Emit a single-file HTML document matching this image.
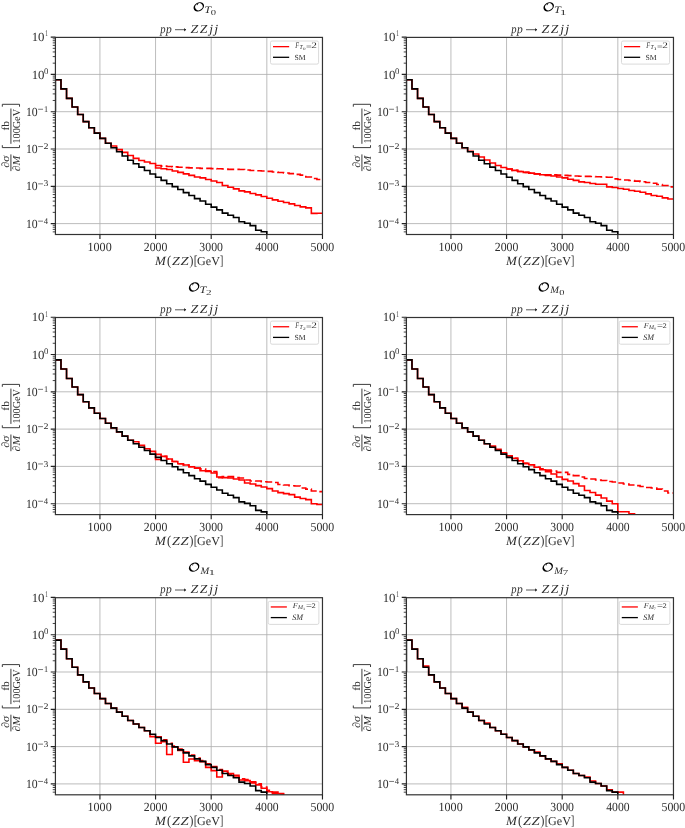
<!DOCTYPE html><html><head><meta charset="utf-8"><style>html,body{margin:0;padding:0;background:#fff;width:685px;height:828px;overflow:hidden}svg{display:block;will-change:transform}text{font-family:"Liberation Serif", serif;fill:#2e2e2e;text-rendering:geometricPrecision}.it{font-style:italic}</style></head><body>
<svg width="685" height="828" viewBox="0 0 685 828">
<rect width="685" height="828" fill="#fff"/>
<clipPath id="c0"><rect x="55.42" y="37.4" width="267.05" height="197.1"/></clipPath>
<path d="M99.93 37.4V234.5M155.56 37.4V234.5M211.2 37.4V234.5M266.83 37.4V234.5M55.42 74.4H322.47M55.42 111.7H322.47M55.42 149H322.47M55.42 186.3H322.47M55.42 223.6H322.47" stroke="#b0b0b0" stroke-width="0.85" fill="none"/>
<g clip-path="url(#c0)" fill="none" stroke-width="1.6" stroke-linejoin="miter" stroke-linecap="butt">
<path d="M155.56 165.56L155.56 165.56L161.13 165.56L161.13 166.16L166.69 166.16L166.69 166.53L172.25 166.53L172.25 166.9L177.82 166.9L177.82 167.28L183.38 167.28L183.38 167.65L188.94 167.65L188.94 167.84L194.51 167.84L194.51 168.02L200.07 168.02L200.07 168.36L205.64 168.36L205.64 168.4L211.2 168.4L211.2 168.58L216.76 168.58L216.76 168.77L222.33 168.77L222.33 168.96L227.89 168.96L227.89 169.33L233.45 169.33L233.45 169.33L239.02 169.33L239.02 169.51L244.58 169.51L244.58 170.07L250.14 170.07L250.14 170.56L255.71 170.56L255.71 170.82L261.27 170.82L261.27 171.01L266.83 171.01L266.83 171.34L272.4 171.34L272.4 171.94L277.96 171.94L277.96 172.54L283.53 172.54L283.53 173.06L289.09 173.06L289.09 173.62L294.65 173.62L294.65 174.33L300.22 174.33L300.22 175.11L305.78 175.11L305.78 176.94L311.34 176.94L311.34 178.5L316.91 178.5L316.91 179.51L322.47 179.51" stroke="#ff0000" stroke-dasharray="7.5 3.2"/>
<path d="M55.42 79.81L55.42 79.81L60.98 79.81L60.98 88.87L66.55 88.87L66.55 98.38L72.11 98.38L72.11 106.93L77.67 106.93L77.67 114.53L83.24 114.53L83.24 121.58L88.8 121.58L88.8 127.74L94.36 127.74L94.36 133.15L99.93 133.15L99.93 138.33L105.49 138.33L105.49 143.22L111.06 143.22L111.06 146.02L116.62 146.02L116.62 149.6L122.18 149.6L122.18 152.39L127.75 152.39L127.75 155.56L133.31 155.56L133.31 158.36L138.87 158.36L138.87 160.56L144.44 160.56L144.44 161.98L150 161.98L150 163.55L155.56 163.55L155.56 167.95L161.13 167.95L161.13 168.77L166.69 168.77L166.69 169.55L172.25 169.55L172.25 170.93L177.82 170.93L177.82 172.35L183.38 172.35L183.38 173.92L188.94 173.92L188.94 175.33L194.51 175.33L194.51 176.94L200.07 176.94L200.07 177.91L205.64 177.91L205.64 179.51L211.2 179.51L211.2 180.93L216.76 180.93L216.76 182.5L222.33 182.5L222.33 185.52L227.89 185.52L227.89 187.31L233.45 187.31L233.45 188.91L239.02 188.91L239.02 190.89L244.58 190.89L244.58 191.89L250.14 191.89L250.14 193.5L255.71 193.5L255.71 194.88L261.27 194.88L261.27 196.48L266.83 196.48L266.83 198.27L272.4 198.27L272.4 199.88L277.96 199.88L277.96 201.26L283.53 201.26L283.53 202.45L289.09 202.45L289.09 203.87L294.65 203.87L294.65 205.43L300.22 205.43L300.22 206.85L305.78 206.85L305.78 207.86L311.34 207.86L311.34 213.42L316.91 213.42L316.91 213.23L322.47 213.23" stroke="#ff0000"/>
<path d="M55.42 111.7L55.42 79.81L55.42 79.81L60.98 79.81L60.98 88.87L66.55 88.87L66.55 98.38L72.11 98.38L72.11 106.93L77.67 106.93L77.67 114.53L83.24 114.53L83.24 121.58L88.8 121.58L88.8 127.74L94.36 127.74L94.36 133.15L99.93 133.15L99.93 138.33L105.49 138.33L105.49 143.22L111.06 143.22L111.06 147.81L116.62 147.81L116.62 151.8L122.18 151.8L122.18 156.01L127.75 156.01L127.75 160.19L133.31 160.19L133.31 163.7L138.87 163.7L138.87 167.17L144.44 167.17L144.44 170.45L150 170.45L150 173.99L155.56 173.99L155.56 177.24L161.13 177.24L161.13 180.33L166.69 180.33L166.69 183.69L172.25 183.69L172.25 186.6L177.82 186.6L177.82 189.55L183.38 189.55L183.38 192.6L188.94 192.6L188.94 195.55L194.51 195.55L194.51 198.61L200.07 198.61L200.07 201.07L205.64 201.07L205.64 204.32L211.2 204.32L211.2 207.08L216.76 207.08L216.76 209.91L222.33 209.91L222.33 213.16L227.89 213.16L227.89 215.21L233.45 215.21L233.45 217.48L239.02 217.48L239.02 221.81L244.58 221.81L244.58 223.23L250.14 223.23L250.14 225.65L255.71 225.65L255.71 230.31L261.27 230.31L261.27 231.81L266.83 231.81L266.83 254.5" stroke="#000"/>
</g>
<rect x="55.42" y="37.4" width="267.05" height="197.1" fill="none" stroke="#333" stroke-width="1.2"/>
<path d="M99.93 234.5v4.6M155.56 234.5v4.6M211.2 234.5v4.6M266.83 234.5v4.6M322.47 234.5v4.6M55.42 37.1h-4.7M55.42 74.4h-4.7M55.42 111.7h-4.7M55.42 149h-4.7M55.42 186.3h-4.7M55.42 223.6h-4.7" stroke="#222" stroke-width="1.15" fill="none"/>
<path d="M55.42 63.17h-2.7M55.42 56.6h-2.7M55.42 51.94h-2.7M55.42 48.33h-2.7M55.42 45.37h-2.7M55.42 42.88h-2.7M55.42 40.71h-2.7M55.42 38.81h-2.7M55.42 100.47h-2.7M55.42 93.9h-2.7M55.42 89.24h-2.7M55.42 85.63h-2.7M55.42 82.67h-2.7M55.42 80.18h-2.7M55.42 78.01h-2.7M55.42 76.11h-2.7M55.42 137.77h-2.7M55.42 131.2h-2.7M55.42 126.54h-2.7M55.42 122.93h-2.7M55.42 119.97h-2.7M55.42 117.48h-2.7M55.42 115.31h-2.7M55.42 113.41h-2.7M55.42 175.07h-2.7M55.42 168.5h-2.7M55.42 163.84h-2.7M55.42 160.23h-2.7M55.42 157.27h-2.7M55.42 154.78h-2.7M55.42 152.61h-2.7M55.42 150.71h-2.7M55.42 212.37h-2.7M55.42 205.8h-2.7M55.42 201.14h-2.7M55.42 197.53h-2.7M55.42 194.57h-2.7M55.42 192.08h-2.7M55.42 189.91h-2.7M55.42 188.01h-2.7M55.42 231.87h-2.7M55.42 229.38h-2.7M55.42 227.21h-2.7M55.42 225.31h-2.7" stroke="#222" stroke-width="0.85" fill="none"/>
<text x="87.57" y="250.7" font-size="12.4" textLength="24.12" lengthAdjust="spacingAndGlyphs"><tspan>1000</tspan></text>
<text x="143.75" y="250.7" font-size="12.4" textLength="23.57" lengthAdjust="spacingAndGlyphs"><tspan>2000</tspan></text>
<text x="199.33" y="250.7" font-size="12.4" textLength="23.61" lengthAdjust="spacingAndGlyphs"><tspan>3000</tspan></text>
<text x="255.31" y="250.7" font-size="12.4" textLength="23.27" lengthAdjust="spacingAndGlyphs"><tspan>4000</tspan></text>
<text x="310.48" y="250.7" font-size="12.4" textLength="23.74" lengthAdjust="spacingAndGlyphs"><tspan>5000</tspan></text>
<text x="31.69" y="41.2" font-size="12.4" textLength="12.81" lengthAdjust="spacingAndGlyphs"><tspan>10</tspan></text>
<text x="45.15" y="36.4" font-size="8.6" textLength="2.7" lengthAdjust="spacingAndGlyphs"><tspan>1</tspan></text>
<text x="31.69" y="78.5" font-size="12.4" textLength="12.81" lengthAdjust="spacingAndGlyphs"><tspan>10</tspan></text>
<text x="44.09" y="73.7" font-size="8.6" textLength="4.36" lengthAdjust="spacingAndGlyphs"><tspan>0</tspan></text>
<text x="25.98" y="115.7" font-size="12.4" textLength="11.78" lengthAdjust="spacingAndGlyphs"><tspan>10</tspan></text>
<path d="M38.12 109.25H43.02" stroke="#2e2e2e" stroke-width="0.65"/>
<text x="43.9" y="111.8" font-size="8.6" textLength="4.12" lengthAdjust="spacingAndGlyphs"><tspan>1</tspan></text>
<text x="25.98" y="153" font-size="12.4" textLength="11.78" lengthAdjust="spacingAndGlyphs"><tspan>10</tspan></text>
<path d="M38.12 146.55H43.02" stroke="#2e2e2e" stroke-width="0.65"/>
<text x="43.58" y="149.1" font-size="8.6" textLength="4.99" lengthAdjust="spacingAndGlyphs"><tspan>2</tspan></text>
<text x="25.98" y="190.3" font-size="12.4" textLength="11.78" lengthAdjust="spacingAndGlyphs"><tspan>10</tspan></text>
<path d="M38.12 183.85H43.02" stroke="#2e2e2e" stroke-width="0.65"/>
<text x="43.56" y="186.4" font-size="8.6" textLength="4.84" lengthAdjust="spacingAndGlyphs"><tspan>3</tspan></text>
<text x="25.98" y="227.6" font-size="12.4" textLength="11.78" lengthAdjust="spacingAndGlyphs"><tspan>10</tspan></text>
<path d="M38.12 221.15H43.02" stroke="#2e2e2e" stroke-width="0.65"/>
<text x="43.85" y="223.7" font-size="8.6" textLength="4.3" lengthAdjust="spacingAndGlyphs"><tspan>4</tspan></text>
<text x="155.05" y="264.6" font-size="12.6" textLength="10.85" lengthAdjust="spacingAndGlyphs"><tspan font-style="italic">M</tspan></text>
<text x="167.05" y="264.9" font-size="13.6" textLength="4.15" lengthAdjust="spacingAndGlyphs"><tspan>(</tspan></text>
<text x="172.02" y="264.6" font-size="12.4" textLength="7.86" lengthAdjust="spacingAndGlyphs"><tspan font-style="italic">Z</tspan></text>
<text x="180.62" y="264.6" font-size="12.4" textLength="8.16" lengthAdjust="spacingAndGlyphs"><tspan font-style="italic">Z</tspan></text>
<text x="189.52" y="264.9" font-size="13.6" textLength="3.89" lengthAdjust="spacingAndGlyphs"><tspan>)</tspan></text>
<text x="193.76" y="264.9" font-size="13.6" textLength="3.74" lengthAdjust="spacingAndGlyphs"><tspan>[</tspan></text>
<text x="197.1" y="264.6" font-size="12.2" textLength="22.83" lengthAdjust="spacingAndGlyphs"><tspan>GeV</tspan></text>
<text x="220.04" y="264.9" font-size="13.6" textLength="3.29" lengthAdjust="spacingAndGlyphs"><tspan>]</tspan></text>
<text x="160.22" y="32.6" font-size="12.3" textLength="5.3" lengthAdjust="spacingAndGlyphs"><tspan font-style="italic">p</tspan></text>
<text x="166.07" y="32.6" font-size="12.3" textLength="5.77" lengthAdjust="spacingAndGlyphs"><tspan font-style="italic">p</tspan></text>
<text x="190.62" y="32.6" font-size="12.3" textLength="7.75" lengthAdjust="spacingAndGlyphs"><tspan font-style="italic">Z</tspan></text>
<text x="199.73" y="32.6" font-size="12.3" textLength="7.55" lengthAdjust="spacingAndGlyphs"><tspan font-style="italic">Z</tspan></text>
<text x="209.35" y="32.6" font-size="12.3" textLength="3.78" lengthAdjust="spacingAndGlyphs"><tspan font-style="italic">j</tspan></text>
<text x="214.31" y="32.6" font-size="12.3" textLength="3.93" lengthAdjust="spacingAndGlyphs"><tspan font-style="italic">j</tspan></text>
<path d="M175 29.7H185.59" stroke="#2e2e2e" stroke-width="0.8" fill="none"/>
<path d="M184 27.9Q185.19 29.2 186.19 29.7Q185.19 30.2 184 31.5Q184.89 29.7 184 27.9Z" fill="#000"/>
<g transform="translate(198.8 6.85)"><g transform="rotate(-32)"><path fill-rule="evenodd" fill="#000" d="M-5.6 0A5.6 4.3 0 1 0 5.6 0A5.6 4.3 0 1 0 -5.6 0ZM-3.7 0A3.85 3.35 0 1 0 4 0A3.85 3.35 0 1 0 -3.7 0Z"/></g><path d="M-0.3 -3.9q-1.2 0.7 -1.2 2.2" stroke="#000" stroke-width="0.75" fill="none"/></g>
<text x="204.19" y="12.8" font-size="10" textLength="6.88" lengthAdjust="spacingAndGlyphs"><tspan font-style="italic">T</tspan></text>
<text x="210.8" y="14.7" font-size="7.6" textLength="5.31" lengthAdjust="spacingAndGlyphs"><tspan>0</tspan></text>
<g transform="translate(10.92 171.1) rotate(-90)">
<path d="M0 0H16.7M27.3 0H62.6" stroke="#333" stroke-width="0.95"/>
<text x="3.39" y="-1.9" font-size="10.6" textLength="12.12" lengthAdjust="spacingAndGlyphs"><tspan>∂</tspan><tspan font-style="italic">σ</tspan></text>
<text x="-0.19" y="8.9" font-size="10.6" textLength="15.55" lengthAdjust="spacingAndGlyphs"><tspan>∂</tspan><tspan font-style="italic">M</tspan></text>
<text x="40.55" y="-1.9" font-size="10.6" textLength="9.59" lengthAdjust="spacingAndGlyphs"><tspan>fb</tspan></text>
<text x="27.6" y="8.9" font-size="10.6" textLength="34.51" lengthAdjust="spacingAndGlyphs"><tspan>100GeV</tspan></text>
<path d="M25.9 -8.6H23.5V8.6H25.9M64.4 -8.6H66.8V8.6H64.4" stroke="#333" stroke-width="0.95" fill="none"/>
</g>
<rect x="270.47" y="41" width="48.1" height="23.1" rx="1.6" fill="#fff" fill-opacity="0.8" stroke="#d6d6d6" stroke-width="0.9"/>
<path d="M272.97 46.65H289.17" stroke="#ff0000" stroke-width="1.3"/>
<path d="M272.97 57.3H289.17" stroke="#000" stroke-width="1.3"/>
<text x="295.2" y="47.9" font-size="8.4" textLength="3.81" lengthAdjust="spacingAndGlyphs"><tspan font-style="italic">F</tspan></text>
<text x="299.49" y="48.9" font-size="6.2" textLength="3.24" lengthAdjust="spacingAndGlyphs"><tspan font-style="italic">T</tspan></text>
<text x="302.85" y="49.8" font-size="3.9" textLength="2.83" lengthAdjust="spacingAndGlyphs"><tspan>0</tspan></text>
<text x="306.07" y="48.8" font-size="8.4" textLength="5.7" lengthAdjust="spacingAndGlyphs"><tspan>=</tspan></text>
<text x="311.18" y="47.9" font-size="8.4" textLength="5.61" lengthAdjust="spacingAndGlyphs"><tspan>2</tspan></text>
<text x="294.45" y="59.9" font-size="7.8" textLength="11.14" lengthAdjust="spacingAndGlyphs"><tspan>SM</tspan></text>
<clipPath id="c1"><rect x="406.42" y="37.4" width="267.05" height="197.1"/></clipPath>
<path d="M450.93 37.4V234.5M506.56 37.4V234.5M562.2 37.4V234.5M617.83 37.4V234.5M406.42 74.4H673.47M406.42 111.7H673.47M406.42 149H673.47M406.42 186.3H673.47M406.42 223.6H673.47" stroke="#b0b0b0" stroke-width="0.85" fill="none"/>
<g clip-path="url(#c1)" fill="none" stroke-width="1.6" stroke-linejoin="miter" stroke-linecap="butt">
<path d="M506.56 168.96L506.56 168.96L512.13 168.96L512.13 170.34L517.69 170.34L517.69 171.53L523.25 171.53L523.25 172.35L528.82 172.35L528.82 173.13L534.38 173.13L534.38 173.92L539.95 173.92L539.95 174.74L545.51 174.74L545.51 174.74L551.07 174.74L551.07 174.92L556.64 174.92L556.64 175.11L562.2 175.11L562.2 175.33L567.76 175.33L567.76 175.63L573.33 175.63L573.33 175.93L578.89 175.93L578.89 176.23L584.45 176.23L584.45 176.42L590.02 176.42L590.02 176.53L595.58 176.53L595.58 176.79L601.14 176.79L601.14 177.05L606.71 177.05L606.71 177.31L612.27 177.31L612.27 178.84L617.83 178.84L617.83 179.51L623.4 179.51L623.4 179.96L628.96 179.96L628.96 180.52L634.53 180.52L634.53 181.08L640.09 181.08L640.09 181.82L645.65 181.82L645.65 182.5L651.22 182.5L651.22 183.32L656.78 183.32L656.78 184.51L662.34 184.51L662.34 185.55L667.91 185.55L667.91 186.9L673.47 186.9" stroke="#ff0000" stroke-dasharray="7.5 3.2"/>
<path d="M406.42 79.81L406.42 79.81L411.98 79.81L411.98 88.87L417.55 88.87L417.55 98.38L423.11 98.38L423.11 106.93L428.67 106.93L428.67 114.53L434.24 114.53L434.24 121.58L439.8 121.58L439.8 127.74L445.36 127.74L445.36 133.15L450.93 133.15L450.93 138.33L456.49 138.33L456.49 143.22L462.06 143.22L462.06 147.81L467.62 147.81L467.62 151.24L473.18 151.24L473.18 154L478.75 154L478.75 156.98L484.31 156.98L484.31 159.97L489.87 159.97L489.87 162.95L495.44 162.95L495.44 165.56L501 165.56L501 167.54L506.56 167.54L506.56 168.96L512.13 168.96L512.13 170.34L517.69 170.34L517.69 171.53L523.25 171.53L523.25 172.35L528.82 172.35L528.82 173.13L534.38 173.13L534.38 173.92L539.95 173.92L539.95 174.74L545.51 174.74L545.51 175.48L551.07 175.48L551.07 175.93L556.64 175.93L556.64 176.94L562.2 176.94L562.2 177.91L567.76 177.91L567.76 179.32L573.33 179.32L573.33 180.33L578.89 180.33L578.89 181.9L584.45 181.9L584.45 182.5L590.02 182.5L590.02 183.5L595.58 183.5L595.58 184.32L601.14 184.32L601.14 184.32L606.71 184.32L606.71 186.9L612.27 186.9L612.27 187.49L617.83 187.49L617.83 188.5L623.4 188.5L623.4 189.28L628.96 189.28L628.96 190.48L634.53 190.48L634.53 191.3L640.09 191.3L640.09 192.27L645.65 192.27L645.65 193.87L651.22 193.87L651.22 195.48L656.78 195.48L656.78 196.26L662.34 196.26L662.34 197.86L667.91 197.86L667.91 199.06L673.47 199.06" stroke="#ff0000"/>
<path d="M406.42 111.7L406.42 79.81L406.42 79.81L411.98 79.81L411.98 88.87L417.55 88.87L417.55 98.38L423.11 98.38L423.11 106.93L428.67 106.93L428.67 114.53L434.24 114.53L434.24 121.58L439.8 121.58L439.8 127.74L445.36 127.74L445.36 133.15L450.93 133.15L450.93 138.33L456.49 138.33L456.49 143.22L462.06 143.22L462.06 147.81L467.62 147.81L467.62 151.8L473.18 151.8L473.18 156.01L478.75 156.01L478.75 160.19L484.31 160.19L484.31 163.7L489.87 163.7L489.87 167.17L495.44 167.17L495.44 170.45L501 170.45L501 173.99L506.56 173.99L506.56 177.24L512.13 177.24L512.13 180.33L517.69 180.33L517.69 183.69L523.25 183.69L523.25 186.6L528.82 186.6L528.82 189.55L534.38 189.55L534.38 192.6L539.95 192.6L539.95 195.55L545.51 195.55L545.51 198.61L551.07 198.61L551.07 201.07L556.64 201.07L556.64 204.32L562.2 204.32L562.2 207.08L567.76 207.08L567.76 209.91L573.33 209.91L573.33 213.16L578.89 213.16L578.89 215.21L584.45 215.21L584.45 217.48L590.02 217.48L590.02 221.81L595.58 221.81L595.58 223.23L601.14 223.23L601.14 225.65L606.71 225.65L606.71 230.31L612.27 230.31L612.27 231.81L617.83 231.81L617.83 254.5" stroke="#000"/>
</g>
<rect x="406.42" y="37.4" width="267.05" height="197.1" fill="none" stroke="#333" stroke-width="1.2"/>
<path d="M450.93 234.5v4.6M506.56 234.5v4.6M562.2 234.5v4.6M617.83 234.5v4.6M673.47 234.5v4.6M406.42 37.1h-4.7M406.42 74.4h-4.7M406.42 111.7h-4.7M406.42 149h-4.7M406.42 186.3h-4.7M406.42 223.6h-4.7" stroke="#222" stroke-width="1.15" fill="none"/>
<path d="M406.42 63.17h-2.7M406.42 56.6h-2.7M406.42 51.94h-2.7M406.42 48.33h-2.7M406.42 45.37h-2.7M406.42 42.88h-2.7M406.42 40.71h-2.7M406.42 38.81h-2.7M406.42 100.47h-2.7M406.42 93.9h-2.7M406.42 89.24h-2.7M406.42 85.63h-2.7M406.42 82.67h-2.7M406.42 80.18h-2.7M406.42 78.01h-2.7M406.42 76.11h-2.7M406.42 137.77h-2.7M406.42 131.2h-2.7M406.42 126.54h-2.7M406.42 122.93h-2.7M406.42 119.97h-2.7M406.42 117.48h-2.7M406.42 115.31h-2.7M406.42 113.41h-2.7M406.42 175.07h-2.7M406.42 168.5h-2.7M406.42 163.84h-2.7M406.42 160.23h-2.7M406.42 157.27h-2.7M406.42 154.78h-2.7M406.42 152.61h-2.7M406.42 150.71h-2.7M406.42 212.37h-2.7M406.42 205.8h-2.7M406.42 201.14h-2.7M406.42 197.53h-2.7M406.42 194.57h-2.7M406.42 192.08h-2.7M406.42 189.91h-2.7M406.42 188.01h-2.7M406.42 231.87h-2.7M406.42 229.38h-2.7M406.42 227.21h-2.7M406.42 225.31h-2.7" stroke="#222" stroke-width="0.85" fill="none"/>
<text x="438.57" y="250.7" font-size="12.4" textLength="24.12" lengthAdjust="spacingAndGlyphs"><tspan>1000</tspan></text>
<text x="494.75" y="250.7" font-size="12.4" textLength="23.57" lengthAdjust="spacingAndGlyphs"><tspan>2000</tspan></text>
<text x="550.33" y="250.7" font-size="12.4" textLength="23.61" lengthAdjust="spacingAndGlyphs"><tspan>3000</tspan></text>
<text x="606.31" y="250.7" font-size="12.4" textLength="23.27" lengthAdjust="spacingAndGlyphs"><tspan>4000</tspan></text>
<text x="661.48" y="250.7" font-size="12.4" textLength="23.74" lengthAdjust="spacingAndGlyphs"><tspan>5000</tspan></text>
<text x="382.69" y="41.2" font-size="12.4" textLength="12.81" lengthAdjust="spacingAndGlyphs"><tspan>10</tspan></text>
<text x="396.15" y="36.4" font-size="8.6" textLength="2.7" lengthAdjust="spacingAndGlyphs"><tspan>1</tspan></text>
<text x="382.69" y="78.5" font-size="12.4" textLength="12.81" lengthAdjust="spacingAndGlyphs"><tspan>10</tspan></text>
<text x="395.09" y="73.7" font-size="8.6" textLength="4.36" lengthAdjust="spacingAndGlyphs"><tspan>0</tspan></text>
<text x="376.98" y="115.7" font-size="12.4" textLength="11.78" lengthAdjust="spacingAndGlyphs"><tspan>10</tspan></text>
<path d="M389.12 109.25H394.02" stroke="#2e2e2e" stroke-width="0.65"/>
<text x="394.9" y="111.8" font-size="8.6" textLength="4.12" lengthAdjust="spacingAndGlyphs"><tspan>1</tspan></text>
<text x="376.98" y="153" font-size="12.4" textLength="11.78" lengthAdjust="spacingAndGlyphs"><tspan>10</tspan></text>
<path d="M389.12 146.55H394.02" stroke="#2e2e2e" stroke-width="0.65"/>
<text x="394.58" y="149.1" font-size="8.6" textLength="4.99" lengthAdjust="spacingAndGlyphs"><tspan>2</tspan></text>
<text x="376.98" y="190.3" font-size="12.4" textLength="11.78" lengthAdjust="spacingAndGlyphs"><tspan>10</tspan></text>
<path d="M389.12 183.85H394.02" stroke="#2e2e2e" stroke-width="0.65"/>
<text x="394.56" y="186.4" font-size="8.6" textLength="4.84" lengthAdjust="spacingAndGlyphs"><tspan>3</tspan></text>
<text x="376.98" y="227.6" font-size="12.4" textLength="11.78" lengthAdjust="spacingAndGlyphs"><tspan>10</tspan></text>
<path d="M389.12 221.15H394.02" stroke="#2e2e2e" stroke-width="0.65"/>
<text x="394.85" y="223.7" font-size="8.6" textLength="4.3" lengthAdjust="spacingAndGlyphs"><tspan>4</tspan></text>
<text x="506.05" y="264.6" font-size="12.6" textLength="10.85" lengthAdjust="spacingAndGlyphs"><tspan font-style="italic">M</tspan></text>
<text x="518.05" y="264.9" font-size="13.6" textLength="4.15" lengthAdjust="spacingAndGlyphs"><tspan>(</tspan></text>
<text x="523.02" y="264.6" font-size="12.4" textLength="7.86" lengthAdjust="spacingAndGlyphs"><tspan font-style="italic">Z</tspan></text>
<text x="531.62" y="264.6" font-size="12.4" textLength="8.16" lengthAdjust="spacingAndGlyphs"><tspan font-style="italic">Z</tspan></text>
<text x="540.52" y="264.9" font-size="13.6" textLength="3.89" lengthAdjust="spacingAndGlyphs"><tspan>)</tspan></text>
<text x="544.76" y="264.9" font-size="13.6" textLength="3.74" lengthAdjust="spacingAndGlyphs"><tspan>[</tspan></text>
<text x="548.1" y="264.6" font-size="12.2" textLength="22.83" lengthAdjust="spacingAndGlyphs"><tspan>GeV</tspan></text>
<text x="571.04" y="264.9" font-size="13.6" textLength="3.29" lengthAdjust="spacingAndGlyphs"><tspan>]</tspan></text>
<text x="511.22" y="32.6" font-size="12.3" textLength="5.3" lengthAdjust="spacingAndGlyphs"><tspan font-style="italic">p</tspan></text>
<text x="517.07" y="32.6" font-size="12.3" textLength="5.77" lengthAdjust="spacingAndGlyphs"><tspan font-style="italic">p</tspan></text>
<text x="541.62" y="32.6" font-size="12.3" textLength="7.75" lengthAdjust="spacingAndGlyphs"><tspan font-style="italic">Z</tspan></text>
<text x="550.73" y="32.6" font-size="12.3" textLength="7.55" lengthAdjust="spacingAndGlyphs"><tspan font-style="italic">Z</tspan></text>
<text x="560.35" y="32.6" font-size="12.3" textLength="3.78" lengthAdjust="spacingAndGlyphs"><tspan font-style="italic">j</tspan></text>
<text x="565.31" y="32.6" font-size="12.3" textLength="3.93" lengthAdjust="spacingAndGlyphs"><tspan font-style="italic">j</tspan></text>
<path d="M526 29.7H536.6" stroke="#2e2e2e" stroke-width="0.8" fill="none"/>
<path d="M535 27.9Q536.2 29.2 537.2 29.7Q536.2 30.2 535 31.5Q535.9 29.7 535 27.9Z" fill="#000"/>
<g transform="translate(548.7 6.85)"><g transform="rotate(-32)"><path fill-rule="evenodd" fill="#000" d="M-5.6 0A5.6 4.3 0 1 0 5.6 0A5.6 4.3 0 1 0 -5.6 0ZM-3.7 0A3.85 3.35 0 1 0 4 0A3.85 3.35 0 1 0 -3.7 0Z"/></g><path d="M-0.3 -3.9q-1.2 0.7 -1.2 2.2" stroke="#000" stroke-width="0.75" fill="none"/></g>
<text x="554.09" y="12.8" font-size="10" textLength="6.88" lengthAdjust="spacingAndGlyphs"><tspan font-style="italic">T</tspan></text>
<text x="559.98" y="14.7" font-size="7.6" textLength="6.39" lengthAdjust="spacingAndGlyphs"><tspan>1</tspan></text>
<g transform="translate(361.92 171.1) rotate(-90)">
<path d="M0 0H16.7M27.3 0H62.6" stroke="#333" stroke-width="0.95"/>
<text x="3.39" y="-1.9" font-size="10.6" textLength="12.12" lengthAdjust="spacingAndGlyphs"><tspan>∂</tspan><tspan font-style="italic">σ</tspan></text>
<text x="-0.19" y="8.9" font-size="10.6" textLength="15.55" lengthAdjust="spacingAndGlyphs"><tspan>∂</tspan><tspan font-style="italic">M</tspan></text>
<text x="40.55" y="-1.9" font-size="10.6" textLength="9.59" lengthAdjust="spacingAndGlyphs"><tspan>fb</tspan></text>
<text x="27.6" y="8.9" font-size="10.6" textLength="34.51" lengthAdjust="spacingAndGlyphs"><tspan>100GeV</tspan></text>
<path d="M25.9 -8.6H23.5V8.6H25.9M64.4 -8.6H66.8V8.6H64.4" stroke="#333" stroke-width="0.95" fill="none"/>
</g>
<rect x="621.47" y="41" width="48.1" height="23.1" rx="1.6" fill="#fff" fill-opacity="0.8" stroke="#d6d6d6" stroke-width="0.9"/>
<path d="M623.97 46.65H640.17" stroke="#ff0000" stroke-width="1.3"/>
<path d="M623.97 57.3H640.17" stroke="#000" stroke-width="1.3"/>
<text x="646.2" y="47.9" font-size="8.4" textLength="3.81" lengthAdjust="spacingAndGlyphs"><tspan font-style="italic">F</tspan></text>
<text x="650.49" y="48.9" font-size="6.2" textLength="3.24" lengthAdjust="spacingAndGlyphs"><tspan font-style="italic">T</tspan></text>
<text x="653.47" y="49.8" font-size="3.9" textLength="3.41" lengthAdjust="spacingAndGlyphs"><tspan>1</tspan></text>
<text x="657.07" y="48.8" font-size="8.4" textLength="5.7" lengthAdjust="spacingAndGlyphs"><tspan>=</tspan></text>
<text x="662.18" y="47.9" font-size="8.4" textLength="5.61" lengthAdjust="spacingAndGlyphs"><tspan>2</tspan></text>
<text x="645.45" y="59.9" font-size="7.8" textLength="11.14" lengthAdjust="spacingAndGlyphs"><tspan>SM</tspan></text>
<clipPath id="c2"><rect x="55.42" y="317.5" width="267.05" height="197.1"/></clipPath>
<path d="M99.93 317.5V514.6M155.56 317.5V514.6M211.2 317.5V514.6M266.83 317.5V514.6M55.42 354.5H322.47M55.42 391.8H322.47M55.42 429.1H322.47M55.42 466.4H322.47M55.42 503.7H322.47" stroke="#b0b0b0" stroke-width="0.85" fill="none"/>
<g clip-path="url(#c2)" fill="none" stroke-width="1.6" stroke-linejoin="miter" stroke-linecap="butt">
<path d="M155.56 454.35L155.56 454.35L161.13 454.35L161.13 456.33L166.69 456.33L166.69 458.94L172.25 458.94L172.25 461.51L177.82 461.51L177.82 463.75L183.38 463.75L183.38 465.06L188.94 465.06L188.94 466.81L194.51 466.81L194.51 468.15L200.07 468.15L200.07 469.01L205.64 469.01L205.64 470.88L211.2 470.88L211.2 471.62L216.76 471.62L216.76 477.59L222.33 477.59L222.33 476.47L227.89 476.47L227.89 476.62L233.45 476.62L233.45 477.44L239.02 477.44L239.02 478.04L244.58 478.04L244.58 480.05L250.14 480.05L250.14 480.95L255.71 480.95L255.71 481.02L261.27 481.02L261.27 481.69L266.83 481.69L266.83 482.07L272.4 482.07L272.4 482.44L277.96 482.44L277.96 484.45L283.53 484.45L283.53 485.05L289.09 485.05L289.09 485.8L294.65 485.8L294.65 486.06L300.22 486.06L300.22 488.03L305.78 488.03L305.78 489.08L311.34 489.08L311.34 491.06L316.91 491.06L316.91 491.65L322.47 491.65" stroke="#ff0000" stroke-dasharray="7.5 3.2"/>
<path d="M55.42 359.91L55.42 359.91L60.98 359.91L60.98 368.97L66.55 368.97L66.55 378.48L72.11 378.48L72.11 387.03L77.67 387.03L77.67 394.63L83.24 394.63L83.24 401.68L88.8 401.68L88.8 407.84L94.36 407.84L94.36 413.25L99.93 413.25L99.93 418.43L105.49 418.43L105.49 423.32L111.06 423.32L111.06 427.91L116.62 427.91L116.62 431.9L122.18 431.9L122.18 436.11L127.75 436.11L127.75 440.29L133.31 440.29L133.31 441.74L138.87 441.74L138.87 445.33L144.44 445.33L144.44 448.76L150 448.76L150 451.37L155.56 451.37L155.56 459.46L161.13 459.46L161.13 456.33L166.69 456.33L166.69 458.94L172.25 458.94L172.25 461.51L177.82 461.51L177.82 463.75L183.38 463.75L183.38 465.06L188.94 465.06L188.94 466.81L194.51 466.81L194.51 468.15L200.07 468.15L200.07 470.69L205.64 470.69L205.64 471.4L211.2 471.4L211.2 473L216.76 473L216.76 477.03L222.33 477.03L222.33 477.63L227.89 477.63L227.89 478.04L233.45 478.04L233.45 479.04L239.02 479.04L239.02 480.05L244.58 480.05L244.58 483.04L250.14 483.04L250.14 484.04L255.71 484.04L255.71 485.65L261.27 485.65L261.27 487.06L266.83 487.06L266.83 488.67L272.4 488.67L272.4 491.06L277.96 491.06L277.96 492.66L283.53 492.66L283.53 493.67L289.09 493.67L289.09 494.67L294.65 494.67L294.65 497.1L300.22 497.1L300.22 498.48L305.78 498.48L305.78 499.67L311.34 499.67L311.34 503.7L316.91 503.7L316.91 504.52L322.47 504.52" stroke="#ff0000"/>
<path d="M55.42 391.8L55.42 359.91L55.42 359.91L60.98 359.91L60.98 368.97L66.55 368.97L66.55 378.48L72.11 378.48L72.11 387.03L77.67 387.03L77.67 394.63L83.24 394.63L83.24 401.68L88.8 401.68L88.8 407.84L94.36 407.84L94.36 413.25L99.93 413.25L99.93 418.43L105.49 418.43L105.49 423.32L111.06 423.32L111.06 427.91L116.62 427.91L116.62 431.9L122.18 431.9L122.18 436.11L127.75 436.11L127.75 440.29L133.31 440.29L133.31 443.8L138.87 443.8L138.87 447.27L144.44 447.27L144.44 450.55L150 450.55L150 454.09L155.56 454.09L155.56 457.34L161.13 457.34L161.13 460.43L166.69 460.43L166.69 463.79L172.25 463.79L172.25 466.7L177.82 466.7L177.82 469.65L183.38 469.65L183.38 472.7L188.94 472.7L188.94 475.65L194.51 475.65L194.51 478.71L200.07 478.71L200.07 481.17L205.64 481.17L205.64 484.42L211.2 484.42L211.2 487.18L216.76 487.18L216.76 490.01L222.33 490.01L222.33 493.26L227.89 493.26L227.89 495.31L233.45 495.31L233.45 497.58L239.02 497.58L239.02 501.91L244.58 501.91L244.58 503.33L250.14 503.33L250.14 505.75L255.71 505.75L255.71 510.41L261.27 510.41L261.27 511.91L266.83 511.91L266.83 534.6" stroke="#000"/>
</g>
<rect x="55.42" y="317.5" width="267.05" height="197.1" fill="none" stroke="#333" stroke-width="1.2"/>
<path d="M99.93 514.6v4.6M155.56 514.6v4.6M211.2 514.6v4.6M266.83 514.6v4.6M322.47 514.6v4.6M55.42 317.2h-4.7M55.42 354.5h-4.7M55.42 391.8h-4.7M55.42 429.1h-4.7M55.42 466.4h-4.7M55.42 503.7h-4.7" stroke="#222" stroke-width="1.15" fill="none"/>
<path d="M55.42 343.27h-2.7M55.42 336.7h-2.7M55.42 332.04h-2.7M55.42 328.43h-2.7M55.42 325.47h-2.7M55.42 322.98h-2.7M55.42 320.81h-2.7M55.42 318.91h-2.7M55.42 380.57h-2.7M55.42 374h-2.7M55.42 369.34h-2.7M55.42 365.73h-2.7M55.42 362.77h-2.7M55.42 360.28h-2.7M55.42 358.11h-2.7M55.42 356.21h-2.7M55.42 417.87h-2.7M55.42 411.3h-2.7M55.42 406.64h-2.7M55.42 403.03h-2.7M55.42 400.07h-2.7M55.42 397.58h-2.7M55.42 395.41h-2.7M55.42 393.51h-2.7M55.42 455.17h-2.7M55.42 448.6h-2.7M55.42 443.94h-2.7M55.42 440.33h-2.7M55.42 437.37h-2.7M55.42 434.88h-2.7M55.42 432.71h-2.7M55.42 430.81h-2.7M55.42 492.47h-2.7M55.42 485.9h-2.7M55.42 481.24h-2.7M55.42 477.63h-2.7M55.42 474.67h-2.7M55.42 472.18h-2.7M55.42 470.01h-2.7M55.42 468.11h-2.7M55.42 511.97h-2.7M55.42 509.48h-2.7M55.42 507.31h-2.7M55.42 505.41h-2.7" stroke="#222" stroke-width="0.85" fill="none"/>
<text x="87.57" y="530.8" font-size="12.4" textLength="24.12" lengthAdjust="spacingAndGlyphs"><tspan>1000</tspan></text>
<text x="143.75" y="530.8" font-size="12.4" textLength="23.57" lengthAdjust="spacingAndGlyphs"><tspan>2000</tspan></text>
<text x="199.33" y="530.8" font-size="12.4" textLength="23.61" lengthAdjust="spacingAndGlyphs"><tspan>3000</tspan></text>
<text x="255.31" y="530.8" font-size="12.4" textLength="23.27" lengthAdjust="spacingAndGlyphs"><tspan>4000</tspan></text>
<text x="310.48" y="530.8" font-size="12.4" textLength="23.74" lengthAdjust="spacingAndGlyphs"><tspan>5000</tspan></text>
<text x="31.69" y="321.3" font-size="12.4" textLength="12.81" lengthAdjust="spacingAndGlyphs"><tspan>10</tspan></text>
<text x="45.15" y="316.5" font-size="8.6" textLength="2.7" lengthAdjust="spacingAndGlyphs"><tspan>1</tspan></text>
<text x="31.69" y="358.6" font-size="12.4" textLength="12.81" lengthAdjust="spacingAndGlyphs"><tspan>10</tspan></text>
<text x="44.09" y="353.8" font-size="8.6" textLength="4.36" lengthAdjust="spacingAndGlyphs"><tspan>0</tspan></text>
<text x="25.98" y="395.8" font-size="12.4" textLength="11.78" lengthAdjust="spacingAndGlyphs"><tspan>10</tspan></text>
<path d="M38.12 389.35H43.02" stroke="#2e2e2e" stroke-width="0.65"/>
<text x="43.9" y="391.9" font-size="8.6" textLength="4.12" lengthAdjust="spacingAndGlyphs"><tspan>1</tspan></text>
<text x="25.98" y="433.1" font-size="12.4" textLength="11.78" lengthAdjust="spacingAndGlyphs"><tspan>10</tspan></text>
<path d="M38.12 426.65H43.02" stroke="#2e2e2e" stroke-width="0.65"/>
<text x="43.58" y="429.2" font-size="8.6" textLength="4.99" lengthAdjust="spacingAndGlyphs"><tspan>2</tspan></text>
<text x="25.98" y="470.4" font-size="12.4" textLength="11.78" lengthAdjust="spacingAndGlyphs"><tspan>10</tspan></text>
<path d="M38.12 463.95H43.02" stroke="#2e2e2e" stroke-width="0.65"/>
<text x="43.56" y="466.5" font-size="8.6" textLength="4.84" lengthAdjust="spacingAndGlyphs"><tspan>3</tspan></text>
<text x="25.98" y="507.7" font-size="12.4" textLength="11.78" lengthAdjust="spacingAndGlyphs"><tspan>10</tspan></text>
<path d="M38.12 501.25H43.02" stroke="#2e2e2e" stroke-width="0.65"/>
<text x="43.85" y="503.8" font-size="8.6" textLength="4.3" lengthAdjust="spacingAndGlyphs"><tspan>4</tspan></text>
<text x="155.05" y="544.7" font-size="12.6" textLength="10.85" lengthAdjust="spacingAndGlyphs"><tspan font-style="italic">M</tspan></text>
<text x="167.05" y="545" font-size="13.6" textLength="4.15" lengthAdjust="spacingAndGlyphs"><tspan>(</tspan></text>
<text x="172.02" y="544.7" font-size="12.4" textLength="7.86" lengthAdjust="spacingAndGlyphs"><tspan font-style="italic">Z</tspan></text>
<text x="180.62" y="544.7" font-size="12.4" textLength="8.16" lengthAdjust="spacingAndGlyphs"><tspan font-style="italic">Z</tspan></text>
<text x="189.52" y="545" font-size="13.6" textLength="3.89" lengthAdjust="spacingAndGlyphs"><tspan>)</tspan></text>
<text x="193.76" y="545" font-size="13.6" textLength="3.74" lengthAdjust="spacingAndGlyphs"><tspan>[</tspan></text>
<text x="197.1" y="544.7" font-size="12.2" textLength="22.83" lengthAdjust="spacingAndGlyphs"><tspan>GeV</tspan></text>
<text x="220.04" y="545" font-size="13.6" textLength="3.29" lengthAdjust="spacingAndGlyphs"><tspan>]</tspan></text>
<text x="160.22" y="312.7" font-size="12.3" textLength="5.3" lengthAdjust="spacingAndGlyphs"><tspan font-style="italic">p</tspan></text>
<text x="166.07" y="312.7" font-size="12.3" textLength="5.77" lengthAdjust="spacingAndGlyphs"><tspan font-style="italic">p</tspan></text>
<text x="190.62" y="312.7" font-size="12.3" textLength="7.75" lengthAdjust="spacingAndGlyphs"><tspan font-style="italic">Z</tspan></text>
<text x="199.73" y="312.7" font-size="12.3" textLength="7.55" lengthAdjust="spacingAndGlyphs"><tspan font-style="italic">Z</tspan></text>
<text x="209.35" y="312.7" font-size="12.3" textLength="3.78" lengthAdjust="spacingAndGlyphs"><tspan font-style="italic">j</tspan></text>
<text x="214.31" y="312.7" font-size="12.3" textLength="3.93" lengthAdjust="spacingAndGlyphs"><tspan font-style="italic">j</tspan></text>
<path d="M175 309.8H185.59" stroke="#2e2e2e" stroke-width="0.8" fill="none"/>
<path d="M184 308Q185.19 309.3 186.19 309.8Q185.19 310.3 184 311.6Q184.89 309.8 184 308Z" fill="#000"/>
<g transform="translate(194.1 286.95)"><g transform="rotate(-32)"><path fill-rule="evenodd" fill="#000" d="M-5.6 0A5.6 4.3 0 1 0 5.6 0A5.6 4.3 0 1 0 -5.6 0ZM-3.7 0A3.85 3.35 0 1 0 4 0A3.85 3.35 0 1 0 -3.7 0Z"/></g><path d="M-0.3 -3.9q-1.2 0.7 -1.2 2.2" stroke="#000" stroke-width="0.75" fill="none"/></g>
<text x="199.49" y="292.9" font-size="10" textLength="6.88" lengthAdjust="spacingAndGlyphs"><tspan font-style="italic">T</tspan></text>
<text x="206.01" y="294.8" font-size="7.6" textLength="5.61" lengthAdjust="spacingAndGlyphs"><tspan>2</tspan></text>
<g transform="translate(10.92 451.2) rotate(-90)">
<path d="M0 0H16.7M27.3 0H62.6" stroke="#333" stroke-width="0.95"/>
<text x="3.39" y="-1.9" font-size="10.6" textLength="12.12" lengthAdjust="spacingAndGlyphs"><tspan>∂</tspan><tspan font-style="italic">σ</tspan></text>
<text x="-0.19" y="8.9" font-size="10.6" textLength="15.55" lengthAdjust="spacingAndGlyphs"><tspan>∂</tspan><tspan font-style="italic">M</tspan></text>
<text x="40.55" y="-1.9" font-size="10.6" textLength="9.59" lengthAdjust="spacingAndGlyphs"><tspan>fb</tspan></text>
<text x="27.6" y="8.9" font-size="10.6" textLength="34.51" lengthAdjust="spacingAndGlyphs"><tspan>100GeV</tspan></text>
<path d="M25.9 -8.6H23.5V8.6H25.9M64.4 -8.6H66.8V8.6H64.4" stroke="#333" stroke-width="0.95" fill="none"/>
</g>
<rect x="270.47" y="321.1" width="48.1" height="23.1" rx="1.6" fill="#fff" fill-opacity="0.8" stroke="#d6d6d6" stroke-width="0.9"/>
<path d="M272.97 326.75H289.17" stroke="#ff0000" stroke-width="1.3"/>
<path d="M272.97 337.4H289.17" stroke="#000" stroke-width="1.3"/>
<text x="295.2" y="328" font-size="8.4" textLength="3.81" lengthAdjust="spacingAndGlyphs"><tspan font-style="italic">F</tspan></text>
<text x="299.49" y="329" font-size="6.2" textLength="3.24" lengthAdjust="spacingAndGlyphs"><tspan font-style="italic">T</tspan></text>
<text x="302.81" y="329.9" font-size="3.9" textLength="2.99" lengthAdjust="spacingAndGlyphs"><tspan>2</tspan></text>
<text x="306.07" y="328.9" font-size="8.4" textLength="5.7" lengthAdjust="spacingAndGlyphs"><tspan>=</tspan></text>
<text x="311.18" y="328" font-size="8.4" textLength="5.61" lengthAdjust="spacingAndGlyphs"><tspan>2</tspan></text>
<text x="294.45" y="340" font-size="7.8" textLength="11.14" lengthAdjust="spacingAndGlyphs"><tspan>SM</tspan></text>
<clipPath id="c3"><rect x="406.42" y="317.5" width="267.05" height="197.1"/></clipPath>
<path d="M450.93 317.5V514.6M506.56 317.5V514.6M562.2 317.5V514.6M617.83 317.5V514.6M406.42 354.5H673.47M406.42 391.8H673.47M406.42 429.1H673.47M406.42 466.4H673.47M406.42 503.7H673.47" stroke="#b0b0b0" stroke-width="0.85" fill="none"/>
<g clip-path="url(#c3)" fill="none" stroke-width="1.6" stroke-linejoin="miter" stroke-linecap="butt">
<path d="M506.56 455.77L506.56 455.77L512.13 455.77L512.13 458.19L517.69 458.19L517.69 460.77L523.25 460.77L523.25 463.38L528.82 463.38L528.82 464.8L534.38 464.8L534.38 467.22L539.95 467.22L539.95 468.82L545.51 468.82L545.51 470.13L551.07 470.13L551.07 471.03L556.64 471.03L556.64 472.41L562.2 472.41L562.2 472.37L567.76 472.37L567.76 474.42L573.33 474.42L573.33 475.61L578.89 475.61L578.89 477.03L584.45 477.03L584.45 478.45L590.02 478.45L590.02 479.04L595.58 479.04L595.58 480.05L601.14 480.05L601.14 480.57L606.71 480.57L606.71 481.43L612.27 481.43L612.27 482.03L617.83 482.03L617.83 483.04L623.4 483.04L623.4 484.04L628.96 484.04L628.96 485.05L634.53 485.05L634.53 485.65L640.09 485.65L640.09 486.47L645.65 486.47L645.65 487.47L651.22 487.47L651.22 488.07L656.78 488.07L656.78 489.08L662.34 489.08L662.34 491.06L667.91 491.06L667.91 493.07L673.47 493.07" stroke="#ff0000" stroke-dasharray="7.5 3.2"/>
<path d="M406.42 359.91L406.42 359.91L411.98 359.91L411.98 368.97L417.55 368.97L417.55 378.48L423.11 378.48L423.11 387.03L428.67 387.03L428.67 394.63L434.24 394.63L434.24 401.68L439.8 401.68L439.8 407.84L445.36 407.84L445.36 413.25L450.93 413.25L450.93 418.43L456.49 418.43L456.49 423.32L462.06 423.32L462.06 427.91L467.62 427.91L467.62 431.9L473.18 431.9L473.18 436.11L478.75 436.11L478.75 440.29L484.31 440.29L484.31 443.8L489.87 443.8L489.87 446.15L495.44 446.15L495.44 449.35L501 449.35L501 452.75L506.56 452.75L506.56 455.77L512.13 455.77L512.13 458.19L517.69 458.19L517.69 460.77L523.25 460.77L523.25 463.38L528.82 463.38L528.82 464.8L534.38 464.8L534.38 467.22L539.95 467.22L539.95 469.76L545.51 469.76L545.51 471.81L551.07 471.81L551.07 474.01L556.64 474.01L556.64 477.03L562.2 477.03L562.2 479.42L567.76 479.42L567.76 481.02L573.33 481.02L573.33 483.63L578.89 483.63L578.89 486.06L584.45 486.06L584.45 490.46L590.02 490.46L590.02 492.47L595.58 492.47L595.58 495.08L601.14 495.08L601.14 498.07L606.71 498.07L606.71 501.09L612.27 501.09L612.27 503.7L617.83 503.7L617.83 511.72L623.4 511.72L623.4 511.72L628.96 511.72L628.96 513.73L634.53 513.73L634.53 537.27L640.09 537.27" stroke="#ff0000"/>
<path d="M406.42 391.8L406.42 359.91L406.42 359.91L411.98 359.91L411.98 368.97L417.55 368.97L417.55 378.48L423.11 378.48L423.11 387.03L428.67 387.03L428.67 394.63L434.24 394.63L434.24 401.68L439.8 401.68L439.8 407.84L445.36 407.84L445.36 413.25L450.93 413.25L450.93 418.43L456.49 418.43L456.49 423.32L462.06 423.32L462.06 427.91L467.62 427.91L467.62 431.9L473.18 431.9L473.18 436.11L478.75 436.11L478.75 440.29L484.31 440.29L484.31 443.8L489.87 443.8L489.87 447.27L495.44 447.27L495.44 450.55L501 450.55L501 454.09L506.56 454.09L506.56 457.34L512.13 457.34L512.13 460.43L517.69 460.43L517.69 463.79L523.25 463.79L523.25 466.7L528.82 466.7L528.82 469.65L534.38 469.65L534.38 472.7L539.95 472.7L539.95 475.65L545.51 475.65L545.51 478.71L551.07 478.71L551.07 481.17L556.64 481.17L556.64 484.42L562.2 484.42L562.2 487.18L567.76 487.18L567.76 490.01L573.33 490.01L573.33 493.26L578.89 493.26L578.89 495.31L584.45 495.31L584.45 497.58L590.02 497.58L590.02 501.91L595.58 501.91L595.58 503.33L601.14 503.33L601.14 505.75L606.71 505.75L606.71 510.41L612.27 510.41L612.27 511.91L617.83 511.91L617.83 534.6" stroke="#000"/>
</g>
<rect x="406.42" y="317.5" width="267.05" height="197.1" fill="none" stroke="#333" stroke-width="1.2"/>
<path d="M450.93 514.6v4.6M506.56 514.6v4.6M562.2 514.6v4.6M617.83 514.6v4.6M673.47 514.6v4.6M406.42 317.2h-4.7M406.42 354.5h-4.7M406.42 391.8h-4.7M406.42 429.1h-4.7M406.42 466.4h-4.7M406.42 503.7h-4.7" stroke="#222" stroke-width="1.15" fill="none"/>
<path d="M406.42 343.27h-2.7M406.42 336.7h-2.7M406.42 332.04h-2.7M406.42 328.43h-2.7M406.42 325.47h-2.7M406.42 322.98h-2.7M406.42 320.81h-2.7M406.42 318.91h-2.7M406.42 380.57h-2.7M406.42 374h-2.7M406.42 369.34h-2.7M406.42 365.73h-2.7M406.42 362.77h-2.7M406.42 360.28h-2.7M406.42 358.11h-2.7M406.42 356.21h-2.7M406.42 417.87h-2.7M406.42 411.3h-2.7M406.42 406.64h-2.7M406.42 403.03h-2.7M406.42 400.07h-2.7M406.42 397.58h-2.7M406.42 395.41h-2.7M406.42 393.51h-2.7M406.42 455.17h-2.7M406.42 448.6h-2.7M406.42 443.94h-2.7M406.42 440.33h-2.7M406.42 437.37h-2.7M406.42 434.88h-2.7M406.42 432.71h-2.7M406.42 430.81h-2.7M406.42 492.47h-2.7M406.42 485.9h-2.7M406.42 481.24h-2.7M406.42 477.63h-2.7M406.42 474.67h-2.7M406.42 472.18h-2.7M406.42 470.01h-2.7M406.42 468.11h-2.7M406.42 511.97h-2.7M406.42 509.48h-2.7M406.42 507.31h-2.7M406.42 505.41h-2.7" stroke="#222" stroke-width="0.85" fill="none"/>
<text x="438.57" y="530.8" font-size="12.4" textLength="24.12" lengthAdjust="spacingAndGlyphs"><tspan>1000</tspan></text>
<text x="494.75" y="530.8" font-size="12.4" textLength="23.57" lengthAdjust="spacingAndGlyphs"><tspan>2000</tspan></text>
<text x="550.33" y="530.8" font-size="12.4" textLength="23.61" lengthAdjust="spacingAndGlyphs"><tspan>3000</tspan></text>
<text x="606.31" y="530.8" font-size="12.4" textLength="23.27" lengthAdjust="spacingAndGlyphs"><tspan>4000</tspan></text>
<text x="661.48" y="530.8" font-size="12.4" textLength="23.74" lengthAdjust="spacingAndGlyphs"><tspan>5000</tspan></text>
<text x="382.69" y="321.3" font-size="12.4" textLength="12.81" lengthAdjust="spacingAndGlyphs"><tspan>10</tspan></text>
<text x="396.15" y="316.5" font-size="8.6" textLength="2.7" lengthAdjust="spacingAndGlyphs"><tspan>1</tspan></text>
<text x="382.69" y="358.6" font-size="12.4" textLength="12.81" lengthAdjust="spacingAndGlyphs"><tspan>10</tspan></text>
<text x="395.09" y="353.8" font-size="8.6" textLength="4.36" lengthAdjust="spacingAndGlyphs"><tspan>0</tspan></text>
<text x="376.98" y="395.8" font-size="12.4" textLength="11.78" lengthAdjust="spacingAndGlyphs"><tspan>10</tspan></text>
<path d="M389.12 389.35H394.02" stroke="#2e2e2e" stroke-width="0.65"/>
<text x="394.9" y="391.9" font-size="8.6" textLength="4.12" lengthAdjust="spacingAndGlyphs"><tspan>1</tspan></text>
<text x="376.98" y="433.1" font-size="12.4" textLength="11.78" lengthAdjust="spacingAndGlyphs"><tspan>10</tspan></text>
<path d="M389.12 426.65H394.02" stroke="#2e2e2e" stroke-width="0.65"/>
<text x="394.58" y="429.2" font-size="8.6" textLength="4.99" lengthAdjust="spacingAndGlyphs"><tspan>2</tspan></text>
<text x="376.98" y="470.4" font-size="12.4" textLength="11.78" lengthAdjust="spacingAndGlyphs"><tspan>10</tspan></text>
<path d="M389.12 463.95H394.02" stroke="#2e2e2e" stroke-width="0.65"/>
<text x="394.56" y="466.5" font-size="8.6" textLength="4.84" lengthAdjust="spacingAndGlyphs"><tspan>3</tspan></text>
<text x="376.98" y="507.7" font-size="12.4" textLength="11.78" lengthAdjust="spacingAndGlyphs"><tspan>10</tspan></text>
<path d="M389.12 501.25H394.02" stroke="#2e2e2e" stroke-width="0.65"/>
<text x="394.85" y="503.8" font-size="8.6" textLength="4.3" lengthAdjust="spacingAndGlyphs"><tspan>4</tspan></text>
<text x="506.05" y="544.7" font-size="12.6" textLength="10.85" lengthAdjust="spacingAndGlyphs"><tspan font-style="italic">M</tspan></text>
<text x="518.05" y="545" font-size="13.6" textLength="4.15" lengthAdjust="spacingAndGlyphs"><tspan>(</tspan></text>
<text x="523.02" y="544.7" font-size="12.4" textLength="7.86" lengthAdjust="spacingAndGlyphs"><tspan font-style="italic">Z</tspan></text>
<text x="531.62" y="544.7" font-size="12.4" textLength="8.16" lengthAdjust="spacingAndGlyphs"><tspan font-style="italic">Z</tspan></text>
<text x="540.52" y="545" font-size="13.6" textLength="3.89" lengthAdjust="spacingAndGlyphs"><tspan>)</tspan></text>
<text x="544.76" y="545" font-size="13.6" textLength="3.74" lengthAdjust="spacingAndGlyphs"><tspan>[</tspan></text>
<text x="548.1" y="544.7" font-size="12.2" textLength="22.83" lengthAdjust="spacingAndGlyphs"><tspan>GeV</tspan></text>
<text x="571.04" y="545" font-size="13.6" textLength="3.29" lengthAdjust="spacingAndGlyphs"><tspan>]</tspan></text>
<text x="511.22" y="312.7" font-size="12.3" textLength="5.3" lengthAdjust="spacingAndGlyphs"><tspan font-style="italic">p</tspan></text>
<text x="517.07" y="312.7" font-size="12.3" textLength="5.77" lengthAdjust="spacingAndGlyphs"><tspan font-style="italic">p</tspan></text>
<text x="541.62" y="312.7" font-size="12.3" textLength="7.75" lengthAdjust="spacingAndGlyphs"><tspan font-style="italic">Z</tspan></text>
<text x="550.73" y="312.7" font-size="12.3" textLength="7.55" lengthAdjust="spacingAndGlyphs"><tspan font-style="italic">Z</tspan></text>
<text x="560.35" y="312.7" font-size="12.3" textLength="3.78" lengthAdjust="spacingAndGlyphs"><tspan font-style="italic">j</tspan></text>
<text x="565.31" y="312.7" font-size="12.3" textLength="3.93" lengthAdjust="spacingAndGlyphs"><tspan font-style="italic">j</tspan></text>
<path d="M526 309.8H536.6" stroke="#2e2e2e" stroke-width="0.8" fill="none"/>
<path d="M535 308Q536.2 309.3 537.2 309.8Q536.2 310.3 535 311.6Q535.9 309.8 535 308Z" fill="#000"/>
<g transform="translate(543.8 286.95)"><g transform="rotate(-32)"><path fill-rule="evenodd" fill="#000" d="M-5.6 0A5.6 4.3 0 1 0 5.6 0A5.6 4.3 0 1 0 -5.6 0ZM-3.7 0A3.85 3.35 0 1 0 4 0A3.85 3.35 0 1 0 -3.7 0Z"/></g><path d="M-0.3 -3.9q-1.2 0.7 -1.2 2.2" stroke="#000" stroke-width="0.75" fill="none"/></g>
<text x="550.32" y="293.4" font-size="10" textLength="8.79" lengthAdjust="spacingAndGlyphs"><tspan font-style="italic">M</tspan></text>
<text x="559.2" y="294.9" font-size="7.6" textLength="5.19" lengthAdjust="spacingAndGlyphs"><tspan>0</tspan></text>
<g transform="translate(361.92 451.2) rotate(-90)">
<path d="M0 0H16.7M27.3 0H62.6" stroke="#333" stroke-width="0.95"/>
<text x="3.39" y="-1.9" font-size="10.6" textLength="12.12" lengthAdjust="spacingAndGlyphs"><tspan>∂</tspan><tspan font-style="italic">σ</tspan></text>
<text x="-0.19" y="8.9" font-size="10.6" textLength="15.55" lengthAdjust="spacingAndGlyphs"><tspan>∂</tspan><tspan font-style="italic">M</tspan></text>
<text x="40.55" y="-1.9" font-size="10.6" textLength="9.59" lengthAdjust="spacingAndGlyphs"><tspan>fb</tspan></text>
<text x="27.6" y="8.9" font-size="10.6" textLength="34.51" lengthAdjust="spacingAndGlyphs"><tspan>100GeV</tspan></text>
<path d="M25.9 -8.6H23.5V8.6H25.9M64.4 -8.6H66.8V8.6H64.4" stroke="#333" stroke-width="0.95" fill="none"/>
</g>
<rect x="619.17" y="321.1" width="50.7" height="23.1" rx="1.6" fill="#fff" fill-opacity="0.8" stroke="#d6d6d6" stroke-width="0.9"/>
<path d="M621.77 326.75H637.87" stroke="#ff0000" stroke-width="1.3"/>
<path d="M621.77 337.4H637.87" stroke="#000" stroke-width="1.3"/>
<text x="643.81" y="327.75" font-size="7.4" textLength="4.99" lengthAdjust="spacingAndGlyphs"><tspan font-style="italic">F</tspan></text>
<text x="648.94" y="328.75" font-size="5.6" textLength="4.96" lengthAdjust="spacingAndGlyphs"><tspan font-style="italic">M</tspan></text>
<text x="654.01" y="329.55" font-size="3.6" textLength="2.12" lengthAdjust="spacingAndGlyphs"><tspan>0</tspan></text>
<text x="656.95" y="327.8" font-size="7.4" textLength="5.94" lengthAdjust="spacingAndGlyphs"><tspan>=</tspan></text>
<text x="662.4" y="327.75" font-size="7" textLength="4.24" lengthAdjust="spacingAndGlyphs"><tspan>2</tspan></text>
<text x="643.17" y="339.95" font-size="8.3" textLength="10.82" lengthAdjust="spacingAndGlyphs"><tspan font-style="italic">SM</tspan></text>
<clipPath id="c4"><rect x="55.42" y="597.7" width="267.05" height="197.1"/></clipPath>
<path d="M99.93 597.7V794.8M155.56 597.7V794.8M211.2 597.7V794.8M266.83 597.7V794.8M55.42 634.7H322.47M55.42 672H322.47M55.42 709.3H322.47M55.42 746.6H322.47M55.42 783.9H322.47" stroke="#b0b0b0" stroke-width="0.85" fill="none"/>
<g clip-path="url(#c4)" fill="none" stroke-width="1.6" stroke-linejoin="miter" stroke-linecap="butt">
<path d="M155.56 736.79L155.56 736.79L161.13 736.79L161.13 739.89L166.69 739.89L166.69 743.24L172.25 743.24L172.25 746.15L177.82 746.15L177.82 749.1L183.38 749.1L183.38 752.16L188.94 752.16L188.94 755.1L194.51 755.1L194.51 758.16L200.07 758.16L200.07 760.62L205.64 760.62L205.64 763.87L211.2 763.87L211.2 766.63L216.76 766.63L216.76 769.46L222.33 769.46L222.33 772.71L227.89 772.71L227.89 774.76L233.45 774.76L233.45 777.04L239.02 777.04L239.02 778.9L244.58 778.9L244.58 779.5L250.14 779.5L250.14 781.77L255.71 781.77L255.71 783.79L261.27 783.79L261.27 787.07L266.83 787.07L266.83 790.24L272.4 790.24L272.4 792.11L277.96 792.11L277.96 793.97L283.53 793.97L283.53 817.47L289.09 817.47" stroke="#ff0000" stroke-dasharray="7.5 3.2"/>
<path d="M55.42 640.11L55.42 640.11L60.98 640.11L60.98 649.17L66.55 649.17L66.55 658.68L72.11 658.68L72.11 667.23L77.67 667.23L77.67 674.83L83.24 674.83L83.24 681.88L88.8 681.88L88.8 688.04L94.36 688.04L94.36 693.45L99.93 693.45L99.93 698.63L105.49 698.63L105.49 703.52L111.06 703.52L111.06 708.11L116.62 708.11L116.62 712.1L122.18 712.1L122.18 716.31L127.75 716.31L127.75 720.49L133.31 720.49L133.31 724L138.87 724L138.87 727.47L144.44 727.47L144.44 730.75L150 730.75L150 736.6L155.56 736.6L155.56 743.24L161.13 743.24L161.13 741.71L166.69 741.71L166.69 754.47L172.25 754.47L172.25 747.01L177.82 747.01L177.82 750.33L183.38 750.33L183.38 762.3L188.94 762.3L188.94 759.06L194.51 759.06L194.51 760.59L200.07 760.59L200.07 761.59L205.64 761.59L205.64 767.41L211.2 767.41L211.2 770.62L216.76 770.62L216.76 776.96L222.33 776.96L222.33 771.14L227.89 771.14L227.89 773.49L233.45 773.49L233.45 775.21L239.02 775.21L239.02 780.02L244.58 780.02L244.58 780.62L250.14 780.62L250.14 782.89L255.71 782.89L255.71 784.91L261.27 784.91L261.27 788.19L266.83 788.19L266.83 791.7L272.4 791.7L272.4 793.6L277.96 793.6L277.96 793.6L283.53 793.6L283.53 817.47L289.09 817.47" stroke="#ff0000"/>
<path d="M55.42 672L55.42 640.11L55.42 640.11L60.98 640.11L60.98 649.17L66.55 649.17L66.55 658.68L72.11 658.68L72.11 667.23L77.67 667.23L77.67 674.83L83.24 674.83L83.24 681.88L88.8 681.88L88.8 688.04L94.36 688.04L94.36 693.45L99.93 693.45L99.93 698.63L105.49 698.63L105.49 703.52L111.06 703.52L111.06 708.11L116.62 708.11L116.62 712.1L122.18 712.1L122.18 716.31L127.75 716.31L127.75 720.49L133.31 720.49L133.31 724L138.87 724L138.87 727.47L144.44 727.47L144.44 730.75L150 730.75L150 734.29L155.56 734.29L155.56 737.54L161.13 737.54L161.13 740.63L166.69 740.63L166.69 743.99L172.25 743.99L172.25 746.9L177.82 746.9L177.82 749.85L183.38 749.85L183.38 752.9L188.94 752.9L188.94 755.85L194.51 755.85L194.51 758.91L200.07 758.91L200.07 761.37L205.64 761.37L205.64 764.62L211.2 764.62L211.2 767.38L216.76 767.38L216.76 770.21L222.33 770.21L222.33 773.46L227.89 773.46L227.89 775.51L233.45 775.51L233.45 777.78L239.02 777.78L239.02 782.11L244.58 782.11L244.58 783.53L250.14 783.53L250.14 785.95L255.71 785.95L255.71 790.61L261.27 790.61L261.27 792.11L266.83 792.11L266.83 814.8" stroke="#000"/>
</g>
<rect x="55.42" y="597.7" width="267.05" height="197.1" fill="none" stroke="#333" stroke-width="1.2"/>
<path d="M99.93 794.8v4.6M155.56 794.8v4.6M211.2 794.8v4.6M266.83 794.8v4.6M322.47 794.8v4.6M55.42 597.4h-4.7M55.42 634.7h-4.7M55.42 672h-4.7M55.42 709.3h-4.7M55.42 746.6h-4.7M55.42 783.9h-4.7" stroke="#222" stroke-width="1.15" fill="none"/>
<path d="M55.42 623.47h-2.7M55.42 616.9h-2.7M55.42 612.24h-2.7M55.42 608.63h-2.7M55.42 605.67h-2.7M55.42 603.18h-2.7M55.42 601.01h-2.7M55.42 599.11h-2.7M55.42 660.77h-2.7M55.42 654.2h-2.7M55.42 649.54h-2.7M55.42 645.93h-2.7M55.42 642.97h-2.7M55.42 640.48h-2.7M55.42 638.31h-2.7M55.42 636.41h-2.7M55.42 698.07h-2.7M55.42 691.5h-2.7M55.42 686.84h-2.7M55.42 683.23h-2.7M55.42 680.27h-2.7M55.42 677.78h-2.7M55.42 675.61h-2.7M55.42 673.71h-2.7M55.42 735.37h-2.7M55.42 728.8h-2.7M55.42 724.14h-2.7M55.42 720.53h-2.7M55.42 717.57h-2.7M55.42 715.08h-2.7M55.42 712.91h-2.7M55.42 711.01h-2.7M55.42 772.67h-2.7M55.42 766.1h-2.7M55.42 761.44h-2.7M55.42 757.83h-2.7M55.42 754.87h-2.7M55.42 752.38h-2.7M55.42 750.21h-2.7M55.42 748.31h-2.7M55.42 792.17h-2.7M55.42 789.68h-2.7M55.42 787.51h-2.7M55.42 785.61h-2.7" stroke="#222" stroke-width="0.85" fill="none"/>
<text x="87.57" y="811" font-size="12.4" textLength="24.12" lengthAdjust="spacingAndGlyphs"><tspan>1000</tspan></text>
<text x="143.75" y="811" font-size="12.4" textLength="23.57" lengthAdjust="spacingAndGlyphs"><tspan>2000</tspan></text>
<text x="199.33" y="811" font-size="12.4" textLength="23.61" lengthAdjust="spacingAndGlyphs"><tspan>3000</tspan></text>
<text x="255.31" y="811" font-size="12.4" textLength="23.27" lengthAdjust="spacingAndGlyphs"><tspan>4000</tspan></text>
<text x="310.48" y="811" font-size="12.4" textLength="23.74" lengthAdjust="spacingAndGlyphs"><tspan>5000</tspan></text>
<text x="31.69" y="601.5" font-size="12.4" textLength="12.81" lengthAdjust="spacingAndGlyphs"><tspan>10</tspan></text>
<text x="45.15" y="596.7" font-size="8.6" textLength="2.7" lengthAdjust="spacingAndGlyphs"><tspan>1</tspan></text>
<text x="31.69" y="638.8" font-size="12.4" textLength="12.81" lengthAdjust="spacingAndGlyphs"><tspan>10</tspan></text>
<text x="44.09" y="634" font-size="8.6" textLength="4.36" lengthAdjust="spacingAndGlyphs"><tspan>0</tspan></text>
<text x="25.98" y="676" font-size="12.4" textLength="11.78" lengthAdjust="spacingAndGlyphs"><tspan>10</tspan></text>
<path d="M38.12 669.55H43.02" stroke="#2e2e2e" stroke-width="0.65"/>
<text x="43.9" y="672.1" font-size="8.6" textLength="4.12" lengthAdjust="spacingAndGlyphs"><tspan>1</tspan></text>
<text x="25.98" y="713.3" font-size="12.4" textLength="11.78" lengthAdjust="spacingAndGlyphs"><tspan>10</tspan></text>
<path d="M38.12 706.85H43.02" stroke="#2e2e2e" stroke-width="0.65"/>
<text x="43.58" y="709.4" font-size="8.6" textLength="4.99" lengthAdjust="spacingAndGlyphs"><tspan>2</tspan></text>
<text x="25.98" y="750.6" font-size="12.4" textLength="11.78" lengthAdjust="spacingAndGlyphs"><tspan>10</tspan></text>
<path d="M38.12 744.15H43.02" stroke="#2e2e2e" stroke-width="0.65"/>
<text x="43.56" y="746.7" font-size="8.6" textLength="4.84" lengthAdjust="spacingAndGlyphs"><tspan>3</tspan></text>
<text x="25.98" y="787.9" font-size="12.4" textLength="11.78" lengthAdjust="spacingAndGlyphs"><tspan>10</tspan></text>
<path d="M38.12 781.45H43.02" stroke="#2e2e2e" stroke-width="0.65"/>
<text x="43.85" y="784" font-size="8.6" textLength="4.3" lengthAdjust="spacingAndGlyphs"><tspan>4</tspan></text>
<text x="155.05" y="824.9" font-size="12.6" textLength="10.85" lengthAdjust="spacingAndGlyphs"><tspan font-style="italic">M</tspan></text>
<text x="167.05" y="825.2" font-size="13.6" textLength="4.15" lengthAdjust="spacingAndGlyphs"><tspan>(</tspan></text>
<text x="172.02" y="824.9" font-size="12.4" textLength="7.86" lengthAdjust="spacingAndGlyphs"><tspan font-style="italic">Z</tspan></text>
<text x="180.62" y="824.9" font-size="12.4" textLength="8.16" lengthAdjust="spacingAndGlyphs"><tspan font-style="italic">Z</tspan></text>
<text x="189.52" y="825.2" font-size="13.6" textLength="3.89" lengthAdjust="spacingAndGlyphs"><tspan>)</tspan></text>
<text x="193.76" y="825.2" font-size="13.6" textLength="3.74" lengthAdjust="spacingAndGlyphs"><tspan>[</tspan></text>
<text x="197.1" y="824.9" font-size="12.2" textLength="22.83" lengthAdjust="spacingAndGlyphs"><tspan>GeV</tspan></text>
<text x="220.04" y="825.2" font-size="13.6" textLength="3.29" lengthAdjust="spacingAndGlyphs"><tspan>]</tspan></text>
<text x="160.22" y="592.9" font-size="12.3" textLength="5.3" lengthAdjust="spacingAndGlyphs"><tspan font-style="italic">p</tspan></text>
<text x="166.07" y="592.9" font-size="12.3" textLength="5.77" lengthAdjust="spacingAndGlyphs"><tspan font-style="italic">p</tspan></text>
<text x="190.62" y="592.9" font-size="12.3" textLength="7.75" lengthAdjust="spacingAndGlyphs"><tspan font-style="italic">Z</tspan></text>
<text x="199.73" y="592.9" font-size="12.3" textLength="7.55" lengthAdjust="spacingAndGlyphs"><tspan font-style="italic">Z</tspan></text>
<text x="209.35" y="592.9" font-size="12.3" textLength="3.78" lengthAdjust="spacingAndGlyphs"><tspan font-style="italic">j</tspan></text>
<text x="214.31" y="592.9" font-size="12.3" textLength="3.93" lengthAdjust="spacingAndGlyphs"><tspan font-style="italic">j</tspan></text>
<path d="M175 590H185.59" stroke="#2e2e2e" stroke-width="0.8" fill="none"/>
<path d="M184 588.2Q185.19 589.5 186.19 590Q185.19 590.5 184 591.8Q184.89 590 184 588.2Z" fill="#000"/>
<g transform="translate(194.1 567.15)"><g transform="rotate(-32)"><path fill-rule="evenodd" fill="#000" d="M-5.6 0A5.6 4.3 0 1 0 5.6 0A5.6 4.3 0 1 0 -5.6 0ZM-3.7 0A3.85 3.35 0 1 0 4 0A3.85 3.35 0 1 0 -3.7 0Z"/></g><path d="M-0.3 -3.9q-1.2 0.7 -1.2 2.2" stroke="#000" stroke-width="0.75" fill="none"/></g>
<text x="200.62" y="573.6" font-size="10" textLength="8.79" lengthAdjust="spacingAndGlyphs"><tspan font-style="italic">M</tspan></text>
<text x="208.8" y="575.1" font-size="7.6" textLength="6.25" lengthAdjust="spacingAndGlyphs"><tspan>1</tspan></text>
<g transform="translate(10.92 731.4) rotate(-90)">
<path d="M0 0H16.7M27.3 0H62.6" stroke="#333" stroke-width="0.95"/>
<text x="3.39" y="-1.9" font-size="10.6" textLength="12.12" lengthAdjust="spacingAndGlyphs"><tspan>∂</tspan><tspan font-style="italic">σ</tspan></text>
<text x="-0.19" y="8.9" font-size="10.6" textLength="15.55" lengthAdjust="spacingAndGlyphs"><tspan>∂</tspan><tspan font-style="italic">M</tspan></text>
<text x="40.55" y="-1.9" font-size="10.6" textLength="9.59" lengthAdjust="spacingAndGlyphs"><tspan>fb</tspan></text>
<text x="27.6" y="8.9" font-size="10.6" textLength="34.51" lengthAdjust="spacingAndGlyphs"><tspan>100GeV</tspan></text>
<path d="M25.9 -8.6H23.5V8.6H25.9M64.4 -8.6H66.8V8.6H64.4" stroke="#333" stroke-width="0.95" fill="none"/>
</g>
<rect x="268.17" y="601.3" width="50.7" height="23.1" rx="1.6" fill="#fff" fill-opacity="0.8" stroke="#d6d6d6" stroke-width="0.9"/>
<path d="M270.77 606.95H286.87" stroke="#ff0000" stroke-width="1.3"/>
<path d="M270.77 617.6H286.87" stroke="#000" stroke-width="1.3"/>
<text x="292.81" y="607.95" font-size="7.4" textLength="4.99" lengthAdjust="spacingAndGlyphs"><tspan font-style="italic">F</tspan></text>
<text x="297.94" y="608.95" font-size="5.6" textLength="4.96" lengthAdjust="spacingAndGlyphs"><tspan font-style="italic">M</tspan></text>
<text x="302.72" y="609.75" font-size="3.6" textLength="2.56" lengthAdjust="spacingAndGlyphs"><tspan>1</tspan></text>
<text x="305.95" y="608" font-size="7.4" textLength="5.94" lengthAdjust="spacingAndGlyphs"><tspan>=</tspan></text>
<text x="311.4" y="607.95" font-size="7" textLength="4.24" lengthAdjust="spacingAndGlyphs"><tspan>2</tspan></text>
<text x="292.17" y="620.15" font-size="8.3" textLength="10.82" lengthAdjust="spacingAndGlyphs"><tspan font-style="italic">SM</tspan></text>
<clipPath id="c5"><rect x="406.42" y="597.7" width="267.05" height="197.1"/></clipPath>
<path d="M450.93 597.7V794.8M506.56 597.7V794.8M562.2 597.7V794.8M617.83 597.7V794.8M406.42 634.7H673.47M406.42 672H673.47M406.42 709.3H673.47M406.42 746.6H673.47M406.42 783.9H673.47" stroke="#b0b0b0" stroke-width="0.85" fill="none"/>
<g clip-path="url(#c5)" fill="none" stroke-width="1.6" stroke-linejoin="miter" stroke-linecap="butt">
<path d="M406.42 640.11L406.42 640.11L411.98 640.11L411.98 649.17L417.55 649.17L417.55 658.68L423.11 658.68L423.11 666.11L428.67 666.11L428.67 674.83L434.24 674.83L434.24 681.88L439.8 681.88L439.8 688.04L445.36 688.04L445.36 693.45L450.93 693.45L450.93 698.63L456.49 698.63L456.49 703.52L462.06 703.52L462.06 707.36L467.62 707.36L467.62 712.1L473.18 712.1L473.18 716.31L478.75 716.31L478.75 720.49L484.31 720.49L484.31 723.06L489.87 723.06L489.87 727.47L495.44 727.47L495.44 730.75L501 730.75L501 734.29L506.56 734.29L506.56 737.54L512.13 737.54L512.13 740.63L517.69 740.63L517.69 743.99L523.25 743.99L523.25 746.9L528.82 746.9L528.82 749.85L534.38 749.85L534.38 752.16L539.95 752.16L539.95 755.85L545.51 755.85L545.51 758.91L551.07 758.91L551.07 761.37L556.64 761.37L556.64 763.68L562.2 763.68L562.2 767.38L567.76 767.38L567.76 770.21L573.33 770.21L573.33 773.46L578.89 773.46L578.89 775.51L584.45 775.51L584.45 777.04L590.02 777.04L590.02 780.99L595.58 780.99L595.58 783.53L601.14 783.53L601.14 785.95L606.71 785.95L606.71 789.87L612.27 789.87L612.27 792.11L617.83 792.11L617.83 792.11L623.4 792.11L623.4 817.47L628.96 817.47" stroke="#ff0000"/>
<path d="M406.42 672L406.42 640.11L406.42 640.11L411.98 640.11L411.98 649.17L417.55 649.17L417.55 658.68L423.11 658.68L423.11 667.23L428.67 667.23L428.67 674.83L434.24 674.83L434.24 681.88L439.8 681.88L439.8 688.04L445.36 688.04L445.36 693.45L450.93 693.45L450.93 698.63L456.49 698.63L456.49 703.52L462.06 703.52L462.06 708.11L467.62 708.11L467.62 712.1L473.18 712.1L473.18 716.31L478.75 716.31L478.75 720.49L484.31 720.49L484.31 724L489.87 724L489.87 727.47L495.44 727.47L495.44 730.75L501 730.75L501 734.29L506.56 734.29L506.56 737.54L512.13 737.54L512.13 740.63L517.69 740.63L517.69 743.99L523.25 743.99L523.25 746.9L528.82 746.9L528.82 749.85L534.38 749.85L534.38 752.9L539.95 752.9L539.95 755.85L545.51 755.85L545.51 758.91L551.07 758.91L551.07 761.37L556.64 761.37L556.64 764.62L562.2 764.62L562.2 767.38L567.76 767.38L567.76 770.21L573.33 770.21L573.33 773.46L578.89 773.46L578.89 775.51L584.45 775.51L584.45 777.78L590.02 777.78L590.02 782.11L595.58 782.11L595.58 783.53L601.14 783.53L601.14 785.95L606.71 785.95L606.71 790.61L612.27 790.61L612.27 792.11L617.83 792.11L617.83 814.8" stroke="#000"/>
</g>
<rect x="406.42" y="597.7" width="267.05" height="197.1" fill="none" stroke="#333" stroke-width="1.2"/>
<path d="M450.93 794.8v4.6M506.56 794.8v4.6M562.2 794.8v4.6M617.83 794.8v4.6M673.47 794.8v4.6M406.42 597.4h-4.7M406.42 634.7h-4.7M406.42 672h-4.7M406.42 709.3h-4.7M406.42 746.6h-4.7M406.42 783.9h-4.7" stroke="#222" stroke-width="1.15" fill="none"/>
<path d="M406.42 623.47h-2.7M406.42 616.9h-2.7M406.42 612.24h-2.7M406.42 608.63h-2.7M406.42 605.67h-2.7M406.42 603.18h-2.7M406.42 601.01h-2.7M406.42 599.11h-2.7M406.42 660.77h-2.7M406.42 654.2h-2.7M406.42 649.54h-2.7M406.42 645.93h-2.7M406.42 642.97h-2.7M406.42 640.48h-2.7M406.42 638.31h-2.7M406.42 636.41h-2.7M406.42 698.07h-2.7M406.42 691.5h-2.7M406.42 686.84h-2.7M406.42 683.23h-2.7M406.42 680.27h-2.7M406.42 677.78h-2.7M406.42 675.61h-2.7M406.42 673.71h-2.7M406.42 735.37h-2.7M406.42 728.8h-2.7M406.42 724.14h-2.7M406.42 720.53h-2.7M406.42 717.57h-2.7M406.42 715.08h-2.7M406.42 712.91h-2.7M406.42 711.01h-2.7M406.42 772.67h-2.7M406.42 766.1h-2.7M406.42 761.44h-2.7M406.42 757.83h-2.7M406.42 754.87h-2.7M406.42 752.38h-2.7M406.42 750.21h-2.7M406.42 748.31h-2.7M406.42 792.17h-2.7M406.42 789.68h-2.7M406.42 787.51h-2.7M406.42 785.61h-2.7" stroke="#222" stroke-width="0.85" fill="none"/>
<text x="438.57" y="811" font-size="12.4" textLength="24.12" lengthAdjust="spacingAndGlyphs"><tspan>1000</tspan></text>
<text x="494.75" y="811" font-size="12.4" textLength="23.57" lengthAdjust="spacingAndGlyphs"><tspan>2000</tspan></text>
<text x="550.33" y="811" font-size="12.4" textLength="23.61" lengthAdjust="spacingAndGlyphs"><tspan>3000</tspan></text>
<text x="606.31" y="811" font-size="12.4" textLength="23.27" lengthAdjust="spacingAndGlyphs"><tspan>4000</tspan></text>
<text x="661.48" y="811" font-size="12.4" textLength="23.74" lengthAdjust="spacingAndGlyphs"><tspan>5000</tspan></text>
<text x="382.69" y="601.5" font-size="12.4" textLength="12.81" lengthAdjust="spacingAndGlyphs"><tspan>10</tspan></text>
<text x="396.15" y="596.7" font-size="8.6" textLength="2.7" lengthAdjust="spacingAndGlyphs"><tspan>1</tspan></text>
<text x="382.69" y="638.8" font-size="12.4" textLength="12.81" lengthAdjust="spacingAndGlyphs"><tspan>10</tspan></text>
<text x="395.09" y="634" font-size="8.6" textLength="4.36" lengthAdjust="spacingAndGlyphs"><tspan>0</tspan></text>
<text x="376.98" y="676" font-size="12.4" textLength="11.78" lengthAdjust="spacingAndGlyphs"><tspan>10</tspan></text>
<path d="M389.12 669.55H394.02" stroke="#2e2e2e" stroke-width="0.65"/>
<text x="394.9" y="672.1" font-size="8.6" textLength="4.12" lengthAdjust="spacingAndGlyphs"><tspan>1</tspan></text>
<text x="376.98" y="713.3" font-size="12.4" textLength="11.78" lengthAdjust="spacingAndGlyphs"><tspan>10</tspan></text>
<path d="M389.12 706.85H394.02" stroke="#2e2e2e" stroke-width="0.65"/>
<text x="394.58" y="709.4" font-size="8.6" textLength="4.99" lengthAdjust="spacingAndGlyphs"><tspan>2</tspan></text>
<text x="376.98" y="750.6" font-size="12.4" textLength="11.78" lengthAdjust="spacingAndGlyphs"><tspan>10</tspan></text>
<path d="M389.12 744.15H394.02" stroke="#2e2e2e" stroke-width="0.65"/>
<text x="394.56" y="746.7" font-size="8.6" textLength="4.84" lengthAdjust="spacingAndGlyphs"><tspan>3</tspan></text>
<text x="376.98" y="787.9" font-size="12.4" textLength="11.78" lengthAdjust="spacingAndGlyphs"><tspan>10</tspan></text>
<path d="M389.12 781.45H394.02" stroke="#2e2e2e" stroke-width="0.65"/>
<text x="394.85" y="784" font-size="8.6" textLength="4.3" lengthAdjust="spacingAndGlyphs"><tspan>4</tspan></text>
<text x="506.05" y="824.9" font-size="12.6" textLength="10.85" lengthAdjust="spacingAndGlyphs"><tspan font-style="italic">M</tspan></text>
<text x="518.05" y="825.2" font-size="13.6" textLength="4.15" lengthAdjust="spacingAndGlyphs"><tspan>(</tspan></text>
<text x="523.02" y="824.9" font-size="12.4" textLength="7.86" lengthAdjust="spacingAndGlyphs"><tspan font-style="italic">Z</tspan></text>
<text x="531.62" y="824.9" font-size="12.4" textLength="8.16" lengthAdjust="spacingAndGlyphs"><tspan font-style="italic">Z</tspan></text>
<text x="540.52" y="825.2" font-size="13.6" textLength="3.89" lengthAdjust="spacingAndGlyphs"><tspan>)</tspan></text>
<text x="544.76" y="825.2" font-size="13.6" textLength="3.74" lengthAdjust="spacingAndGlyphs"><tspan>[</tspan></text>
<text x="548.1" y="824.9" font-size="12.2" textLength="22.83" lengthAdjust="spacingAndGlyphs"><tspan>GeV</tspan></text>
<text x="571.04" y="825.2" font-size="13.6" textLength="3.29" lengthAdjust="spacingAndGlyphs"><tspan>]</tspan></text>
<text x="511.22" y="592.9" font-size="12.3" textLength="5.3" lengthAdjust="spacingAndGlyphs"><tspan font-style="italic">p</tspan></text>
<text x="517.07" y="592.9" font-size="12.3" textLength="5.77" lengthAdjust="spacingAndGlyphs"><tspan font-style="italic">p</tspan></text>
<text x="541.62" y="592.9" font-size="12.3" textLength="7.75" lengthAdjust="spacingAndGlyphs"><tspan font-style="italic">Z</tspan></text>
<text x="550.73" y="592.9" font-size="12.3" textLength="7.55" lengthAdjust="spacingAndGlyphs"><tspan font-style="italic">Z</tspan></text>
<text x="560.35" y="592.9" font-size="12.3" textLength="3.78" lengthAdjust="spacingAndGlyphs"><tspan font-style="italic">j</tspan></text>
<text x="565.31" y="592.9" font-size="12.3" textLength="3.93" lengthAdjust="spacingAndGlyphs"><tspan font-style="italic">j</tspan></text>
<path d="M526 590H536.6" stroke="#2e2e2e" stroke-width="0.8" fill="none"/>
<path d="M535 588.2Q536.2 589.5 537.2 590Q536.2 590.5 535 591.8Q535.9 590 535 588.2Z" fill="#000"/>
<g transform="translate(547.7 567.15)"><g transform="rotate(-32)"><path fill-rule="evenodd" fill="#000" d="M-5.6 0A5.6 4.3 0 1 0 5.6 0A5.6 4.3 0 1 0 -5.6 0ZM-3.7 0A3.85 3.35 0 1 0 4 0A3.85 3.35 0 1 0 -3.7 0Z"/></g><path d="M-0.3 -3.9q-1.2 0.7 -1.2 2.2" stroke="#000" stroke-width="0.75" fill="none"/></g>
<text x="554.22" y="573.6" font-size="10" textLength="8.79" lengthAdjust="spacingAndGlyphs"><tspan font-style="italic">M</tspan></text>
<text x="562.78" y="575.1" font-size="7.6" textLength="5.43" lengthAdjust="spacingAndGlyphs"><tspan>7</tspan></text>
<g transform="translate(361.92 731.4) rotate(-90)">
<path d="M0 0H16.7M27.3 0H62.6" stroke="#333" stroke-width="0.95"/>
<text x="3.39" y="-1.9" font-size="10.6" textLength="12.12" lengthAdjust="spacingAndGlyphs"><tspan>∂</tspan><tspan font-style="italic">σ</tspan></text>
<text x="-0.19" y="8.9" font-size="10.6" textLength="15.55" lengthAdjust="spacingAndGlyphs"><tspan>∂</tspan><tspan font-style="italic">M</tspan></text>
<text x="40.55" y="-1.9" font-size="10.6" textLength="9.59" lengthAdjust="spacingAndGlyphs"><tspan>fb</tspan></text>
<text x="27.6" y="8.9" font-size="10.6" textLength="34.51" lengthAdjust="spacingAndGlyphs"><tspan>100GeV</tspan></text>
<path d="M25.9 -8.6H23.5V8.6H25.9M64.4 -8.6H66.8V8.6H64.4" stroke="#333" stroke-width="0.95" fill="none"/>
</g>
<rect x="619.17" y="601.3" width="50.7" height="23.1" rx="1.6" fill="#fff" fill-opacity="0.8" stroke="#d6d6d6" stroke-width="0.9"/>
<path d="M621.77 606.95H637.87" stroke="#ff0000" stroke-width="1.3"/>
<path d="M621.77 617.6H637.87" stroke="#000" stroke-width="1.3"/>
<text x="643.81" y="607.95" font-size="7.4" textLength="4.99" lengthAdjust="spacingAndGlyphs"><tspan font-style="italic">F</tspan></text>
<text x="648.94" y="608.95" font-size="5.6" textLength="4.96" lengthAdjust="spacingAndGlyphs"><tspan font-style="italic">M</tspan></text>
<text x="653.88" y="609.75" font-size="3.6" textLength="2.22" lengthAdjust="spacingAndGlyphs"><tspan>7</tspan></text>
<text x="656.95" y="608" font-size="7.4" textLength="5.94" lengthAdjust="spacingAndGlyphs"><tspan>=</tspan></text>
<text x="662.4" y="607.95" font-size="7" textLength="4.24" lengthAdjust="spacingAndGlyphs"><tspan>2</tspan></text>
<text x="643.17" y="620.15" font-size="8.3" textLength="10.82" lengthAdjust="spacingAndGlyphs"><tspan font-style="italic">SM</tspan></text>
</svg></body></html>
